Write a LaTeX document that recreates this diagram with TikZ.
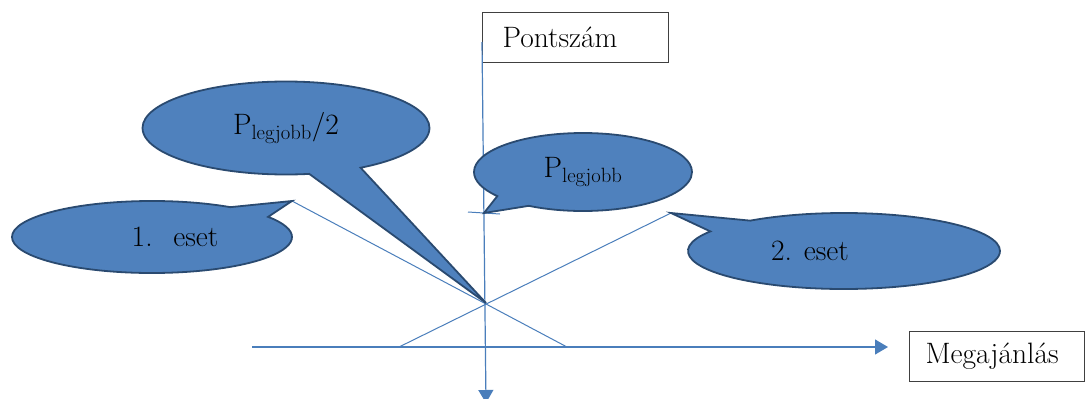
\documentclass[tikz,border=0pt]{standalone}
\usetikzlibrary{shapes.callouts,arrows.meta}
\definecolor{cfill}{HTML}{4F81BD}
\definecolor{cdraw}{HTML}{2A4A70}
\definecolor{cline}{HTML}{4A7EBB}
\tikzset{
  bubble/.style={ellipse callout, fill=cfill, draw=cdraw, line width=1.8pt,
    inner sep=0pt, callout pointer arc=22, font=\fontsize{29.5}{32}\selectfont},
  lbl/.style={draw=black!75, line width=1pt, inner ysep=0pt, minimum height=50pt,
    align=left, font=\fontsize{29.5}{32}\selectfont},
  thin/.style={cline, line width=1pt},
  axis/.style={cline, line width=1.2pt, -{Triangle[width=15pt,length=13pt]}}
}
\begin{document}
\begin{tikzpicture}[x=1pt,y=-1pt]
\useasboundingbox (0,0) rectangle (1085,399);
% coordinates
\coordinate (t1) at (292,201);
\coordinate (t2) at (671,213);
\coordinate (tp) at (484,213);
\coordinate (tx) at (486,303);
\coordinate (vtop) at (482,42);
\coordinate (vbot) at (486,403);
\coordinate (hl) at (252,347);
\coordinate (hr) at (888,347);
\coordinate (aend) at (567,347);
\coordinate (bstart) at (399,347);
\coordinate (tickl) at (468,212);
\coordinate (tickr) at (500,214);
% boxes
\node[lbl, anchor=west, text width=146pt, inner xsep=20pt] (pont) at (482,37) {Pontszám};
\node[lbl, anchor=west, text width=143pt, inner xsep=16pt] (mega) at (909,356) {Megajánlás};
% axes and lines
\draw[axis] (vtop) -- (vbot);
\draw[axis] (hl) -- (hr);
\draw[thin] (t1) -- (aend);
\draw[thin] (bstart) -- (t2);
\draw[thin] (tickl) -- (tickr);
% callouts
\node[bubble, minimum width=287pt, minimum height=93pt, callout absolute pointer={(tx)}]
  (half) at (286,128) {P\textsubscript{legjobb}/2};
\node[bubble, minimum width=218pt, minimum height=78pt, callout absolute pointer={(tp)}]
  (best) at (583,172) {P\textsubscript{legjobb}};
\node[bubble, minimum width=280pt, minimum height=72pt, callout absolute pointer={(t1)}]
  (case1) at (152,237) {\hspace*{46pt}1.\hspace{0.7em}eset};
\node[bubble, minimum width=312pt, minimum height=76pt, callout absolute pointer={(t2)}]
  (case2) at (844,251) {2. eset\hspace*{68pt}};
\end{tikzpicture}
\end{document}
